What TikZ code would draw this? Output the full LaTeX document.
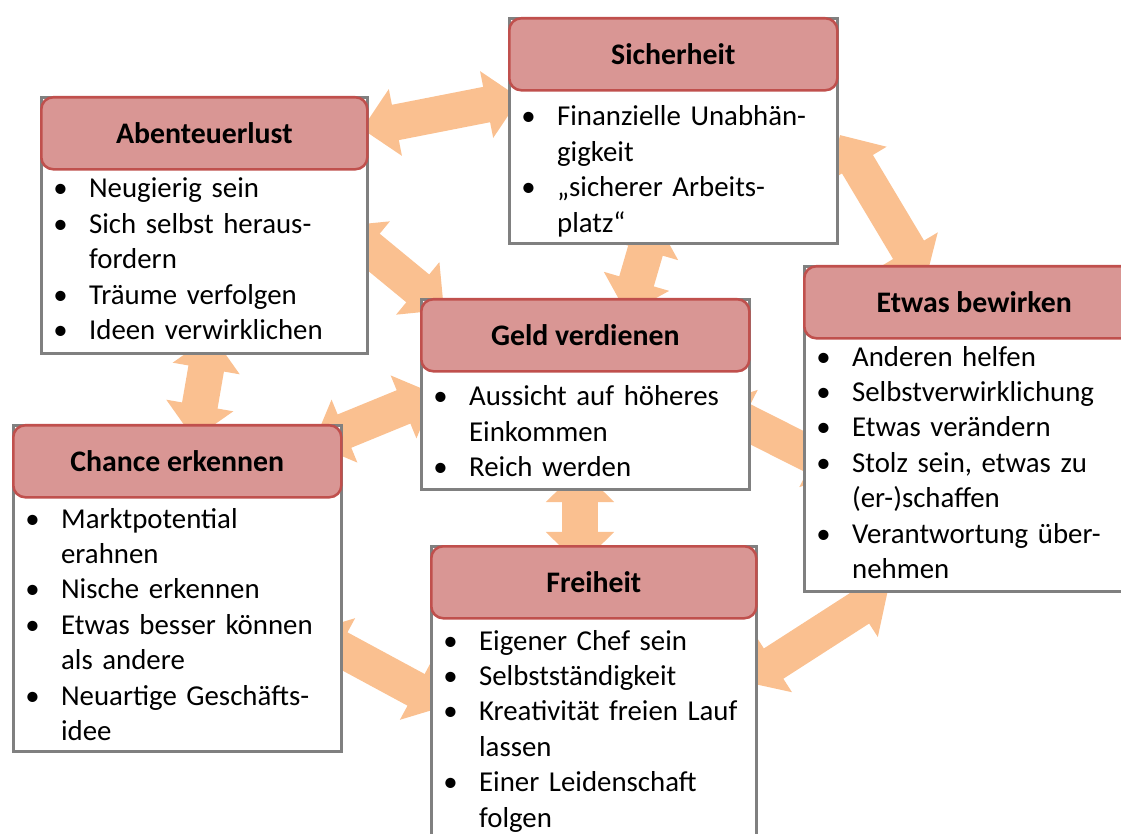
\documentclass[tikz,border=0pt]{standalone}
\usepackage{fontspec}
\setmainfont{Carlito}
\usetikzlibrary{arrows.meta}
\definecolor{kopfrot}{HTML}{D99694}
\definecolor{randrot}{HTML}{C0504D}
\definecolor{randgrau}{HTML}{808080}
\definecolor{pfeilorange}{HTML}{FAC090}
\newcommand{\punkt}{\makebox[25.5pt][l]{\textbullet}}
\newcommand{\weiter}{\hspace*{25.5pt}}

\begin{document}
\begin{tikzpicture}[x=0.025cm, y=-0.025cm,
    kasten/.style={draw=randgrau, line width=2pt, fill=white, anchor=north west, inner sep=0pt},
    kopf/.style={draw=randrot, line width=1.8pt, fill=kopfrot, rounded corners=0.3cm, anchor=north west,
        minimum height=1.8cm, inner sep=0pt, font=\fontsize{21.2}{25}\selectfont\bfseries},
    liste/.style={anchor=base west, inner sep=0pt, text width=8cm, align=left, font=\fontsize{20.5}{25.2}\selectfont},
    doppelpfeil/.style={pfeilorange, line width=0.9cm,
        {Triangle[width=1.65cm,length=0.85cm]}-{Triangle[width=1.65cm,length=0.85cm]}}]
    % Rahmen
    \useasboundingbox (0,0) rectangle (1121,834);
    \clip (0,0) rectangle (1121,834);
    % Pfeilenden
    \coordinate (a1) at (362,129); \coordinate (a2) at (520,98);
    \coordinate (b1) at (840,135); \coordinate (b2) at (926,279);
    \coordinate (c1) at (342,226); \coordinate (c2) at (444,310);
    \coordinate (d1) at (655,218); \coordinate (d2) at (627,314);
    \coordinate (e1) at (212,335); \coordinate (e2) at (194,439);
    \coordinate (f1) at (313,444); \coordinate (f2) at (435,394);
    \coordinate (g1) at (712,405); \coordinate (g2) at (845,472);
    \coordinate (h1) at (580,468); \coordinate (h2) at (580,566);
    \coordinate (i1) at (309,632); \coordinate (i2) at (446,706);
    \coordinate (j1) at (745,682); \coordinate (j2) at (888,590);
    % Pfeile
    \foreach \p in {a,b,c,d,e,f,g,h,i,j}
        \draw[doppelpfeil] (\p1) -- (\p2);
    % Abenteuerlust
    \node[kasten, minimum width=8.15cm, minimum height=6.4cm] (abenteuer) at (40,96) {};
    \node[kopf, minimum width=8.15cm] (abenteuerKopf) at (abenteuer.north west) {Abenteuerlust};
    \node[liste] (abenteuerListe) at (53,198) {\punkt Neugierig sein\\
        \punkt Sich selbst heraus-\\ \weiter fordern\\
        \punkt Träume verfolgen\\
        \punkt Ideen verwirklichen};
    % Sicherheit
    \node[kasten, minimum width=8.2cm, minimum height=5.625cm] (sicherheit) at (508,17) {};
    \node[kopf, minimum width=8.2cm] (sicherheitKopf) at (sicherheit.north west) {Sicherheit};
    \node[liste] (sicherheitListe) at (521,126) {\punkt Finanzielle Unabhän-\\ \weiter gigkeit\\
        \punkt „sicherer Arbeits-\\ \weiter platz“};
    % Etwas bewirken
    \node[kasten, minimum width=8.5cm, minimum height=8.125cm] (bewirken) at (803,265) {};
    \node[kopf, minimum width=8.5cm] (bewirkenKopf) at (bewirken.north west) {Etwas bewirken};
    \node[liste] (bewirkenListe) at (816,366) {\punkt Anderen helfen\\
        \punkt Selbstverwirklichung\\
        \punkt Etwas verändern\\
        \punkt Stolz sein, etwas zu\\ \weiter (er-)schaffen\\
        \punkt Verantwortung über-\\ \weiter nehmen};
    % Geld verdienen
    \node[kasten, minimum width=8.2cm, minimum height=4.75cm] (geld) at (420,298) {};
    \node[kopf, minimum width=8.2cm] (geldKopf) at (geld.north west) {Geld verdienen};
    \node[liste] (geldListe) at (433,406) {\punkt Aussicht auf höheres\\ \weiter Einkommen\\
        \punkt Reich werden};
    % Chance erkennen
    \node[kasten, minimum width=8.2cm, minimum height=8.15cm] (chance) at (12,424) {};
    \node[kopf, minimum width=8.2cm] (chanceKopf) at (chance.north west) {Chance erkennen};
    \node[liste] (chanceListe) at (25,528) {\punkt Marktpotential\\ \weiter erahnen\\
        \punkt Nische erkennen\\
        \punkt Etwas besser können\\ \weiter als andere\\
        \punkt Neuartige Geschäfts-\\ \weiter idee};
    % Freiheit
    \node[kasten, minimum width=8.125cm, minimum height=7.75cm] (freiheit) at (430,545) {};
    \node[kopf, minimum width=8.125cm] (freiheitKopf) at (freiheit.north west) {Freiheit};
    \node[liste] (freiheitListe) at (443,650) {\punkt Eigener Chef sein\\
        \punkt Selbstständigkeit\\
        \punkt Kreativität freien Lauf\\ \weiter lassen\\
        \punkt Einer Leidenschaft\\ \weiter folgen};
\end{tikzpicture}
\end{document}
